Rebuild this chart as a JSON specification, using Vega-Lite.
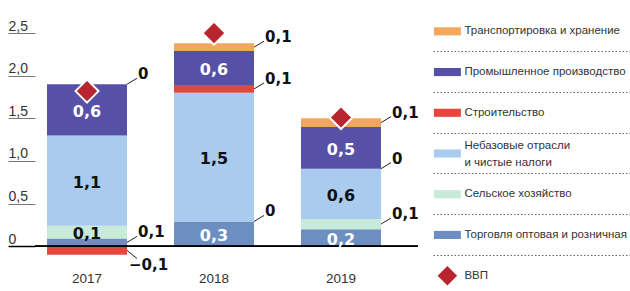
{
  "$schema": "https://vega.github.io/schema/vega-lite/v6.json",
  "padding": {"left": 7, "top": 5, "right": 0, "bottom": 0},
  "bounds": "flush",
  "spacing": 15,
  "config": {"view": {"stroke": null}, "font": "Liberation Sans, Arial, sans-serif"},
  "datasets": {
    "seg": [
      {"year": "2017", "sector": "Торговля оптовая и розничная", "k": 1, "value": 0.09, "label": "0,1"},
      {"year": "2017", "sector": "Сельское хозяйство", "k": 2, "value": 0.15, "label": "0,1"},
      {"year": "2017", "sector": "Небазовые отрасли и чистые налоги", "k": 3, "value": 1.06, "label": "1,1"},
      {"year": "2017", "sector": "Строительство", "k": 4, "value": -0.1, "label": "−0,1"},
      {"year": "2017", "sector": "Промышленное производство", "k": 5, "value": 0.6, "label": "0,6"},
      {"year": "2017", "sector": "Транспортировка и хранение", "k": 6, "value": 0, "label": "0"},
      {"year": "2018", "sector": "Торговля оптовая и розничная", "k": 1, "value": 0.29, "label": "0,3"},
      {"year": "2018", "sector": "Сельское хозяйство", "k": 2, "value": 0, "label": "0"},
      {"year": "2018", "sector": "Небазовые отрасли и чистые налоги", "k": 3, "value": 1.51, "label": "1,5"},
      {"year": "2018", "sector": "Строительство", "k": 4, "value": 0.09, "label": "0,1"},
      {"year": "2018", "sector": "Промышленное производство", "k": 5, "value": 0.4, "label": "0,6"},
      {"year": "2018", "sector": "Транспортировка и хранение", "k": 6, "value": 0.09, "label": "0,1"},
      {"year": "2019", "sector": "Торговля оптовая и розничная", "k": 1, "value": 0.2, "label": "0,2"},
      {"year": "2019", "sector": "Сельское хозяйство", "k": 2, "value": 0.12, "label": "0,1"},
      {"year": "2019", "sector": "Небазовые отрасли и чистые налоги", "k": 3, "value": 0.59, "label": "0,6"},
      {"year": "2019", "sector": "Строительство", "k": 4, "value": 0, "label": "0"},
      {"year": "2019", "sector": "Промышленное производство", "k": 5, "value": 0.49, "label": "0,5"},
      {"year": "2019", "sector": "Транспортировка и хранение", "k": 6, "value": 0.1, "label": "0,1"}
    ],
    "gdp": [
      {"year": "2017", "gdp": 1.82},
      {"year": "2018", "gdp": 2.5},
      {"year": "2019", "gdp": 1.51}
    ],
    "leg": [
      {"item": "Транспортировка и хранение", "label": "Транспортировка и хранение"},
      {"item": "Промышленное производство", "label": "Промышленное производство"},
      {"item": "Строительство", "label": "Строительство"},
      {"item": "Небазовые отрасли и чистые налоги", "label": "Небазовые отрасли\nи чистые налоги"},
      {"item": "Сельское хозяйство", "label": "Сельское хозяйство"},
      {"item": "Торговля оптовая и розничная", "label": "Торговля оптовая и розничная"},
      {"item": "ВВП", "label": "ВВП"}
    ]
  },
  "hconcat": [
    {
      "width": 383,
      "height": 254,
      "data": {"name": "seg"},
      "layer": [
        {
          "mark": {"type": "bar"},
          "encoding": {
            "x": {
              "field": "year", "type": "nominal",
              "scale": {"type": "band", "paddingInner": 0.37, "paddingOuter": 0.193, "align": 0.245},
              "axis": {"title": null, "domain": false, "ticks": false, "labelPadding": 12, "labelFontSize": 13.5, "labelColor": "#333", "labelAngle": 0}
            },
            "y": {
              "field": "value", "type": "quantitative", "stack": "zero", "title": null,
              "scale": {"domain": [-0.15, 2.83], "nice": false, "zero": false},
              "axis": {
                "title": null, "values": [0, 0.5, 1, 1.5, 2, 2.5], "domain": false, "grid": false,
                "tickSize": 27,
                "tickColor": {"condition": {"test": "datum.value === 0", "value": "#000"}, "value": "#777"},
                "tickWidth": {"condition": {"test": "datum.value === 0", "value": 1.5}, "value": 1},
                "labelAlign": "left", "labelPadding": 0, "labelBaseline": "alphabetic", "labelOffset": -3,
                "labelExpr": "datum.value === 0 ? '0' : replace(format(datum.value, '.1f'), '.', ',')",
                "labelFontSize": 14, "labelColor": "#333"
              }
            },
            "color": {
              "field": "sector", "type": "nominal", "legend": null,
              "scale": {
                "domain": ["Транспортировка и хранение", "Промышленное производство", "Строительство", "Небазовые отрасли и чистые налоги", "Сельское хозяйство", "Торговля оптовая и розничная", "ВВП"],
                "range": ["#F2A85C", "#5650A6", "#E5473F", "#A8CBEE", "#C8EAD8", "#6D8EC0", "#B8252E"]
              }
            },
            "order": {"field": "k", "type": "quantitative", "sort": "ascending"}
          }
        },
        {
          "data": {"name": "gdp"},
          "mark": {"type": "rule", "color": "#000", "strokeWidth": 1.5},
          "encoding": {"y": {"datum": 0, "type": "quantitative"}}
        },
        {
          "transform": [
            {"stack": "value", "groupby": ["year"], "sort": [{"field": "k", "order": "ascending"}], "as": ["v0", "v1"]},
            {"fold": ["v0", "v1"], "as": ["end", "pos"]},
            {"aggregate": [{"op": "mean", "field": "pos", "as": "mid"}], "groupby": ["year", "sector", "label", "value"]},
            {"filter": "abs(datum.value) >= 0.14"}
          ],
          "mark": {"type": "text", "font": "DejaVu Sans", "fontWeight": "bold", "fontSize": 16, "baseline": "middle", "dy": 2},
          "encoding": {
            "x": {"field": "year", "type": "nominal"},
            "y": {"field": "mid", "type": "quantitative", "title": null},
            "text": {"field": "label"},
            "color": {"condition": {"test": "datum.sector === 'Промышленное производство' || datum.sector === 'Торговля оптовая и розничная'", "value": "#ffffff"}, "value": "#111111"}
          }
        },
        {
          "transform": [
            {"stack": "value", "groupby": ["year"], "sort": [{"field": "k", "order": "ascending"}], "as": ["v0", "v1"]},
            {"fold": ["v0", "v1"], "as": ["end", "pos"]},
            {"aggregate": [{"op": "mean", "field": "pos", "as": "mid"}], "groupby": ["year", "sector", "label", "value"]},
            {"filter": "abs(datum.value) < 0.14 && datum.value >= 0"}
          ],
          "layer": [
            {
              "mark": {"type": "rule", "color": "#222", "strokeWidth": 1, "x2Offset": 10, "y2Offset": -6},
              "encoding": {
                "x": {"field": "year", "type": "nominal", "bandPosition": 1},
                "x2": {"field": "year", "bandPosition": 1},
                "y": {"field": "mid", "type": "quantitative", "title": null},
                "y2": {"field": "mid"}
              }
            },
            {
              "mark": {"type": "text", "font": "DejaVu Sans", "fontWeight": "bold", "fontSize": 15, "align": "left", "baseline": "middle", "dx": 11, "dy": -10, "color": "#111"},
              "encoding": {
                "x": {"field": "year", "type": "nominal", "bandPosition": 1},
                "y": {"field": "mid", "type": "quantitative", "title": null},
                "text": {"field": "label"}
              }
            }
          ]
        },
        {
          "transform": [
            {"stack": "value", "groupby": ["year"], "sort": [{"field": "k", "order": "ascending"}], "as": ["v0", "v1"]},
            {"fold": ["v0", "v1"], "as": ["end", "pos"]},
            {"aggregate": [{"op": "mean", "field": "pos", "as": "mid"}], "groupby": ["year", "sector", "label", "value"]},
            {"filter": "datum.value < 0"}
          ],
          "layer": [
            {
              "mark": {"type": "rule", "color": "#222", "strokeWidth": 1, "x2Offset": 10, "y2Offset": 8},
              "encoding": {
                "x": {"field": "year", "type": "nominal", "bandPosition": 1},
                "x2": {"field": "year", "bandPosition": 1},
                "y": {"field": "mid", "type": "quantitative", "title": null},
                "y2": {"field": "mid"}
              }
            },
            {
              "mark": {"type": "text", "font": "DejaVu Sans", "fontWeight": "bold", "fontSize": 15, "align": "left", "baseline": "middle", "dx": 2, "dy": 15, "color": "#111"},
              "encoding": {
                "x": {"field": "year", "type": "nominal", "bandPosition": 1},
                "y": {"field": "mid", "type": "quantitative", "title": null},
                "text": {"field": "label"}
              }
            }
          ]
        },
        {
          "data": {"name": "gdp"},
          "mark": {"type": "point", "shape": "diamond", "filled": true, "fill": "#B8252E", "stroke": "#ffffff", "strokeWidth": 2, "size": 530, "opacity": 1},
          "encoding": {
            "x": {"field": "year", "type": "nominal"},
            "y": {"field": "gdp", "type": "quantitative", "title": null}
          }
        }
      ]
    },
    {
      "width": 200,
      "height": 285,
      "data": {"name": "leg"},
      "layer": [
        {
          "mark": {"type": "point", "filled": true, "opacity": 1, "yOffset": 6},
          "encoding": {
            "x": {"datum": "sw", "type": "nominal", "scale": {"type": "point", "domain": ["sw"], "padding": 1, "align": 0.072}, "axis": null},
            "y": {
              "field": "item", "type": "nominal", "sort": null,
              "scale": {"type": "band", "paddingInner": 0, "paddingOuter": 0},
              "axis": {
                "title": null, "labels": false, "ticks": false, "domain": false, "grid": true,
                "gridDash": [1.5, 2], "gridColor": "#666", "gridWidth": 1, "bandPosition": 0.15,
                "gridOpacity": {"condition": {"test": "datum.value === 'Транспортировка и хранение'", "value": 0}, "value": 1}
              }
            },
            "color": {
              "field": "item", "type": "nominal", "legend": null,
              "scale": {
                "domain": ["Транспортировка и хранение", "Промышленное производство", "Строительство", "Небазовые отрасли и чистые налоги", "Сельское хозяйство", "Торговля оптовая и розничная", "ВВП"],
                "range": ["#F2A85C", "#5650A6", "#E5473F", "#A8CBEE", "#C8EAD8", "#6D8EC0", "#B8252E"]
              }
            },
            "shape": {"condition": {"test": "datum.item === 'ВВП'", "value": "diamond"}, "value": "M-1,-0.3H1V0.3H-1Z"},
            "size": {"condition": {"test": "datum.item === 'ВВП'", "value": 380}, "value": 729}
          }
        },
        {
          "transform": [{"filter": "indexof(datum.label, '\\n') < 0"}],
          "mark": {"type": "text", "align": "left", "baseline": "middle", "yOffset": 6, "dx": 17, "fontSize": 11.5, "color": "#333"},
          "encoding": {
            "x": {"datum": "sw", "type": "nominal"},
            "y": {"field": "item", "type": "nominal", "sort": null},
            "text": {"field": "label"}
          }
        },
        {
          "transform": [{"filter": "indexof(datum.label, '\\n') >= 0"}],
          "mark": {"type": "text", "align": "left", "baseline": "middle", "yOffset": 6, "dx": 17, "dy": -8, "fontSize": 11.5, "color": "#333", "lineBreak": "\n", "lineHeight": 17},
          "encoding": {
            "x": {"datum": "sw", "type": "nominal"},
            "y": {"field": "item", "type": "nominal", "sort": null},
            "text": {"field": "label"}
          }
        }
      ]
    }
  ]
}
